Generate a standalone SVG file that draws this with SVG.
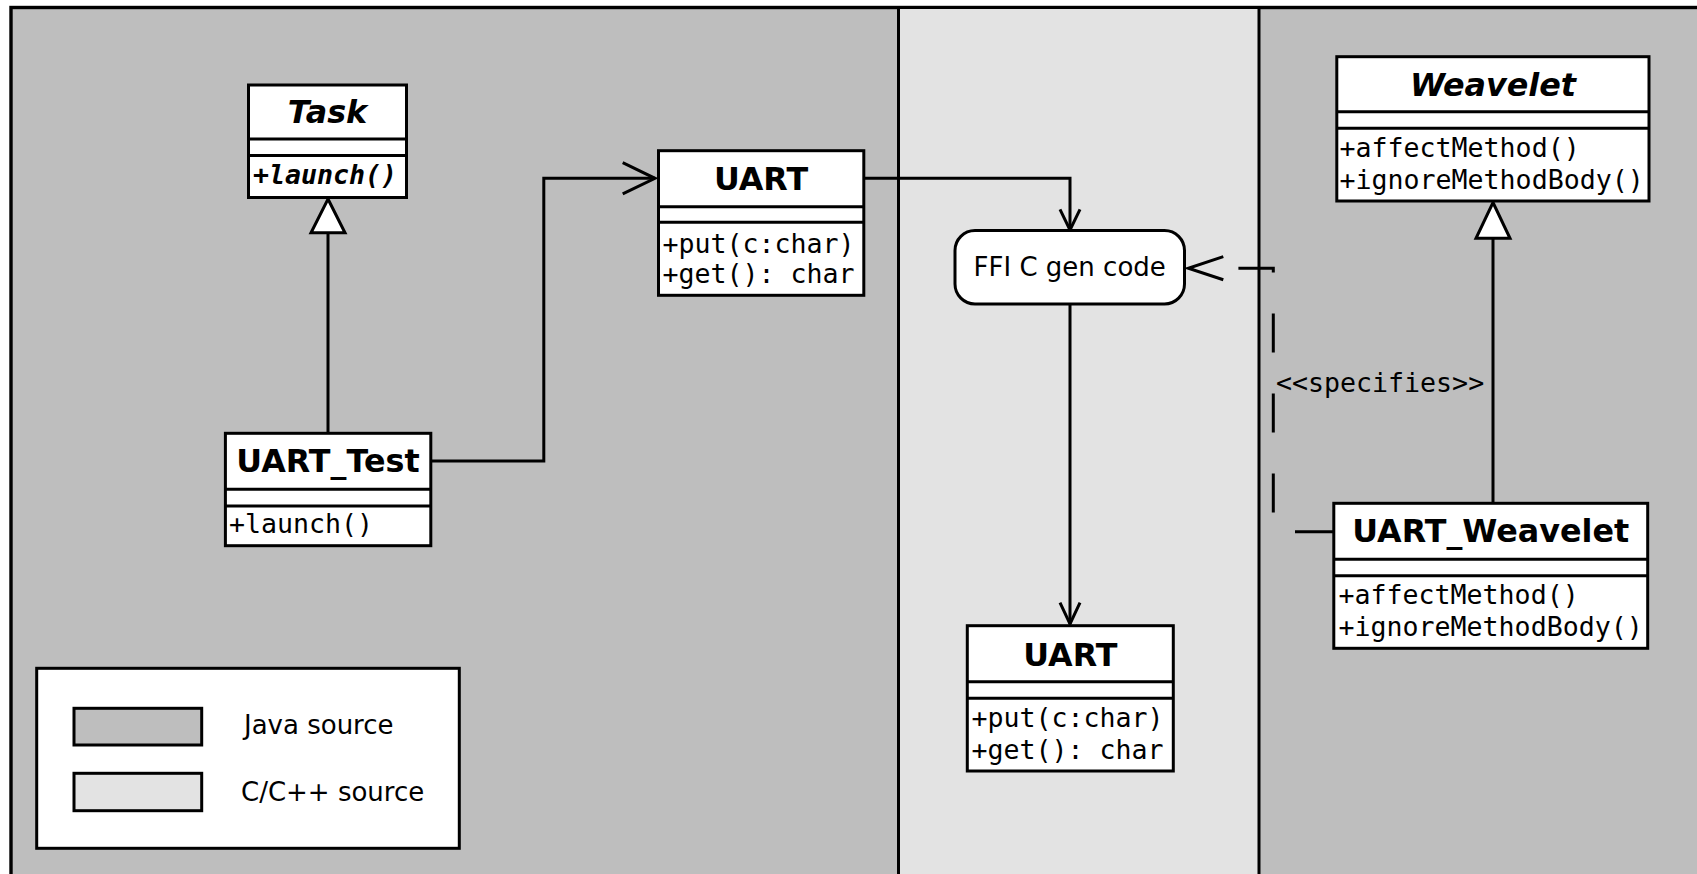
<svg xmlns="http://www.w3.org/2000/svg" width="1697" height="874" viewBox="0 0 1697 874">
<style>
.box{fill:#fff;stroke:#000;stroke-width:3}
.ln{fill:none;stroke:#000;stroke-width:3}
.name{font-family:"DejaVu Sans",Verdana,sans-serif;font-weight:bold;font-size:31.8px;text-anchor:middle;fill:#000}
.abs{font-style:italic}
.op{font-family:"DejaVu Sans Mono","Liberation Mono",monospace;font-size:26.6px;fill:#000}
.lbl{font-family:"DejaVu Sans",Verdana,sans-serif;font-size:26px;fill:#000}
.tri{fill:#fff;stroke:#000;stroke-width:3;stroke-linejoin:miter}
</style>
<g id="background">
<rect x="11" y="7.5" width="1700" height="880" fill="#bebebe" stroke="#000" stroke-width="3.4"/>
<rect x="898.5" y="9" width="360.5" height="870" fill="#e3e3e3"/>
<line x1="898.5" y1="9" x2="898.5" y2="880" stroke="#000" stroke-width="3"/>
<line x1="1259" y1="9" x2="1259" y2="880" stroke="#000" stroke-width="3"/>
</g>
<g id="connectors">
<line class="ln" x1="328" y1="433" x2="328" y2="232.7"/>
<polygon class="tri" points="328,199 345,232.7 311,232.7"/>
<polyline class="ln" points="430.8,461 543.8,461 543.8,178.3 655,178.3"/>
<polyline class="ln" points="622.7,162.7 655,178.3 622.7,193.8"/>
<polyline class="ln" points="863.8,178.3 1070,178.3 1070,230"/>
<polyline class="ln" points="1060,209.3 1070,230 1080,209.3"/>
<line class="ln" x1="1070" y1="304" x2="1070" y2="624"/>
<polyline class="ln" points="1060,602.7 1070,624 1080,602.7"/>
<polyline class="ln" points="1334,531.7 1273.3,531.7 1273.3,268.3 1223,268.3" stroke-dasharray="39 41"/>
<polyline class="ln" points="1223.3,256.7 1188.3,268.3 1223.3,279.8"/>
<text class="op" x="1276" y="391.7">&lt;&lt;specifies&gt;&gt;</text>
<line class="ln" x1="1493" y1="503" x2="1493" y2="238.3"/>
<polygon class="tri" points="1493,202.5 1510,238.3 1476,238.3"/>
</g>
<g id="task">
<rect class="box" x="248.5" y="85" width="158" height="112.5"/>
<line class="ln" x1="248.5" y1="139" x2="406.5" y2="139"/>
<line class="ln" x1="248.5" y1="155.5" x2="406.5" y2="155.5"/>
<text class="name abs" x="327.5" y="123">Task</text>
<text class="op" x="253" y="184" font-weight="bold" font-style="italic">+launch()</text>
</g>
<g id="uart-test">
<rect class="box" x="225.4" y="433.3" width="205.4" height="112.4"/>
<line class="ln" x1="225.4" y1="489.3" x2="430.8" y2="489.3"/>
<line class="ln" x1="225.4" y1="506" x2="430.8" y2="506"/>
<text class="name" x="328" y="472">UART_Test</text>
<text class="op" x="229" y="533.3">+launch()</text>
</g>
<g id="uart-java">
<rect class="box" x="658.5" y="150.7" width="205.3" height="144.6"/>
<line class="ln" x1="658.5" y1="206.7" x2="863.8" y2="206.7"/>
<line class="ln" x1="658.5" y1="222.3" x2="863.8" y2="222.3"/>
<text class="name" x="761" y="189.5">UART</text>
<text class="op" x="662.5" y="252.5">+put(c:char)</text>
<text class="op" x="662.5" y="283">+get(): char</text>
</g>
<g id="ffi">
<rect class="box" x="955" y="230.5" width="229.5" height="73.5" rx="20" ry="20"/>
<text class="lbl" x="1069.7" y="276" text-anchor="middle" font-size="25.5">FFI C gen code</text>
</g>
<g id="uart-c">
<rect class="box" x="967.3" y="625.7" width="206" height="145.3"/>
<line class="ln" x1="967.3" y1="681.7" x2="1173.3" y2="681.7"/>
<line class="ln" x1="967.3" y1="698.3" x2="1173.3" y2="698.3"/>
<text class="name" x="1070.3" y="665.5">UART</text>
<text class="op" x="971.5" y="727">+put(c:char)</text>
<text class="op" x="971.5" y="758.5">+get(): char</text>
</g>
<g id="weavelet">
<rect class="box" x="1336.8" y="56.7" width="312.2" height="144.3"/>
<line class="ln" x1="1336.8" y1="111.7" x2="1649" y2="111.7"/>
<line class="ln" x1="1336.8" y1="128.3" x2="1649" y2="128.3"/>
<text class="name abs" x="1493" y="95.5">Weavelet</text>
<text class="op" x="1339.5" y="156.5">+affectMethod()</text>
<text class="op" x="1339.5" y="188.5">+ignoreMethodBody()</text>
</g>
<g id="uart-weavelet">
<rect class="box" x="1333.8" y="503.3" width="313.9" height="145"/>
<line class="ln" x1="1333.8" y1="559.3" x2="1647.7" y2="559.3"/>
<line class="ln" x1="1333.8" y1="575.7" x2="1647.7" y2="575.7"/>
<text class="name" x="1490.7" y="542">UART_Weavelet</text>
<text class="op" x="1338.5" y="604">+affectMethod()</text>
<text class="op" x="1338.5" y="636">+ignoreMethodBody()</text>
</g>
<g id="legend">
<rect class="box" x="36.7" y="668.3" width="422.6" height="180"/>
<rect x="74" y="708.3" width="127.7" height="36.7" fill="#bebebe" stroke="#000" stroke-width="3"/>
<rect x="74" y="773.3" width="127.7" height="37.4" fill="#e3e3e3" stroke="#000" stroke-width="3"/>
<text class="lbl" x="244" y="734">Java source</text>
<text class="lbl" x="241" y="800.5">C/C++ source</text>
</g>
</svg>
